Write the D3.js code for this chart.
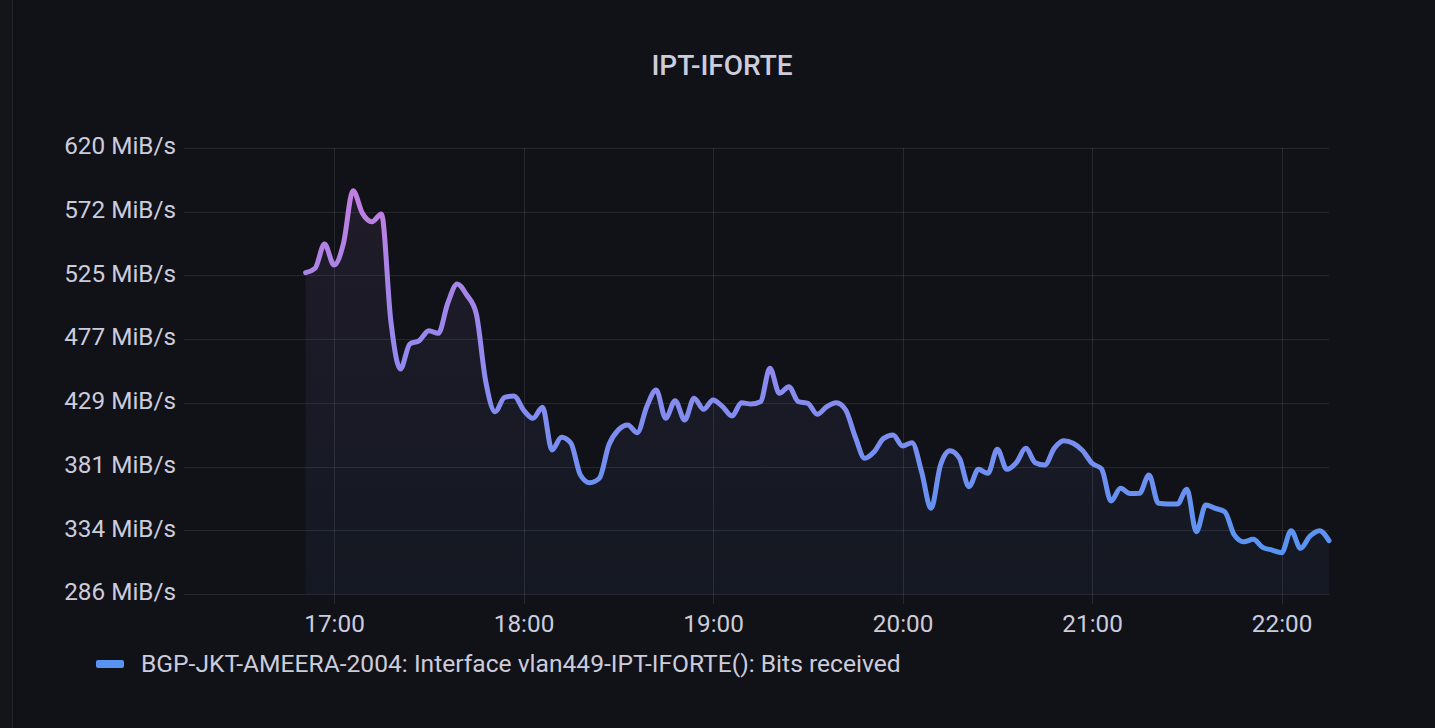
<!DOCTYPE html>
<html lang="en">
<head>
<meta charset="UTF-8">
<title>IPT-IFORTE</title>
<script src="https://cdn.jsdelivr.net/npm/d3@7"></script>
<style>
  html, body { margin: 0; padding: 0; background: #111217; }
  svg { display: block; font-family: Roboto, "Noto Sans", sans-serif; }
</style>
</head>
<body>
<svg id="chart" width="1435" height="728"></svg>
<script>
// series: one sample every 3 minutes, from 16:51 to 22:15 (MiB/s)
var seriesName = 'BGP-JKT-AMEERA-2004: Interface vlan449-IPT-IFORTE(): Bits received';
var firstSample = '16:51';
var stepMinutes = 3;
var values = [
  526.6, 529.9, 548.0, 532.3, 548.6, 587.9, 571.0, 564.7, 570.5, 490.0,
  454.5, 473.2, 475.7, 483.2, 481.2, 503.7, 518.1, 509.9, 496.2, 445.5,
  422.5, 433.3, 434.3, 423.8, 417.6, 425.8, 393.9, 403.4, 398.9, 375.2,
  369.4, 372.7, 397.6, 408.8, 412.6, 406.8, 426.3, 438.8, 417.6, 430.8,
  416.3, 432.6, 424.3, 431.3, 426.3, 419.3, 429.3, 428.3, 430.0, 455.0,
  436.3, 441.3, 430.0, 428.8, 420.6, 426.3, 429.3, 423.8, 403.8, 387.7,
  392.6, 402.6, 405.1, 396.9, 399.3, 377.8, 350.2, 382.6, 393.4, 387.7,
  366.4, 379.4, 376.4, 394.4, 379.4, 384.4, 395.1, 384.4, 382.6, 395.1,
  400.8, 398.9, 393.4, 383.9, 379.7, 355.7, 365.2, 361.3, 361.5, 375.2,
  354.0, 353.5, 353.5, 364.5, 332.7, 352.7, 350.2, 347.7, 330.3, 325.2,
  327.0, 321.0, 319.0, 317.0, 333.5, 320.3, 329.5, 333.5, 326.0
];
// y ticks are round byte rates, shown in MiB/s
var yTickBytes = [300e6, 350e6, 400e6, 450e6, 500e6, 550e6, 600e6, 650e6];
var timeRange = ['16:12:30', '22:15:00'];

var MiB = 1048576;
var parseT = d3.timeParse('%Y-%m-%d %H:%M:%S');
function at(hms) { return parseT('2023-01-01 ' + (hms.length == 5 ? hms + ':00' : hms)); }

var t0 = at(firstSample);
var data = values.map(function(v, i) {
  return { t: d3.timeMinute.offset(t0, i * stepMinutes), v: v };
});

var svg = d3.select('#chart');
var W = 1435, H = 728;
var plotL = 184, plotR = 1329, plotT = 148, plotB = 594;

// panel
svg.append('rect').attr('width', W).attr('height', H).attr('fill', '#141519');
svg.append('rect').attr('x', 13).attr('width', W - 13).attr('height', H).attr('fill', '#111217');
svg.append('line').attr('x1', 12.5).attr('x2', 12.5).attr('y1', 0).attr('y2', H)
  .attr('stroke', '#22232a').attr('stroke-width', 1);

svg.append('text')
  .attr('x', 722).attr('y', 75)
  .attr('text-anchor', 'middle')
  .attr('fill', '#ccccdc')
  .style('font-size', '28px').style('font-weight', 500)
  .text('IPT-IFORTE');

var x = d3.scaleTime().domain([at(timeRange[0]), at(timeRange[1])]).range([plotL, plotR]);
var y = d3.scaleLinear()
  .domain([yTickBytes[0] / MiB, yTickBytes[yTickBytes.length - 1] / MiB])
  .range([plotB, plotT]);

var yTicks = yTickBytes.map(function(b) { return b / MiB; });
var xTicks = x.ticks(d3.timeHour.every(1));

// grid
var grid = svg.append('g').attr('stroke', '#ccccdc').attr('stroke-opacity', 0.12).attr('stroke-width', 1);
grid.selectAll('.h').data(yTicks).enter().append('line')
  .attr('x1', plotL).attr('x2', plotR)
  .attr('y1', function(d) { return Math.round(y(d)) + 0.5; })
  .attr('y2', function(d) { return Math.round(y(d)) + 0.5; });
grid.selectAll('.v').data(xTicks).enter().append('line')
  .attr('x1', function(d) { return Math.round(x(d)) + 0.5; })
  .attr('x2', function(d) { return Math.round(x(d)) + 0.5; })
  .attr('y1', plotT).attr('y2', plotB + 10);

// y axis labels
var yAxis = svg.append('g')
  .attr('transform', 'translate(' + (plotL - 8) + ',-2)')
  .call(d3.axisLeft(y).tickValues(yTicks).tickSize(0).tickPadding(0)
    .tickFormat(function(d) { return Math.round(d) + ' MiB/s'; }));
yAxis.select('.domain').remove();
yAxis.selectAll('text').attr('fill', '#ccccdc').style('font-size', '24.3px')
  .style('font-family', 'Roboto, sans-serif');

// x axis labels
var xAxis = svg.append('g')
  .attr('transform', 'translate(0,' + (plotB + 21) + ')')
  .call(d3.axisBottom(x).tickValues(xTicks).tickSize(0).tickPadding(0)
    .tickFormat(d3.timeFormat('%H:%M')));
xAxis.select('.domain').remove();
xAxis.selectAll('text').attr('fill', '#ccccdc').style('font-size', '24.3px')
  .style('font-family', 'Roboto, sans-serif');

// colour by value, blue at the low end, purple at the high end
var vmin = d3.min(values), vmax = d3.max(values);
var defs = svg.append('defs');
var lg = defs.append('linearGradient').attr('id', 'lineGrad')
  .attr('gradientUnits', 'userSpaceOnUse')
  .attr('x1', 0).attr('x2', 0).attr('y1', y(vmin)).attr('y2', y(vmax));
lg.append('stop').attr('offset', '0%').attr('stop-color', '#5794F2');
lg.append('stop').attr('offset', '50%').attr('stop-color', '#8f8af0');
lg.append('stop').attr('offset', '100%').attr('stop-color', '#C27EE0');

var ag = defs.append('linearGradient').attr('id', 'areaGrad')
  .attr('gradientUnits', 'userSpaceOnUse')
  .attr('x1', 0).attr('x2', 0).attr('y1', y(vmax)).attr('y2', plotB);
ag.append('stop').attr('offset', '0%').attr('stop-color', '#b877d9').attr('stop-opacity', 0.09);
ag.append('stop').attr('offset', '100%').attr('stop-color', '#5794F2').attr('stop-opacity', 0.05);

var area = d3.area()
  .x(function(d) { return x(d.t); })
  .y0(plotB)
  .y1(function(d) { return y(d.v); })
  .curve(d3.curveMonotoneX);
var line = d3.line()
  .x(function(d) { return x(d.t); })
  .y(function(d) { return y(d.v); })
  .curve(d3.curveMonotoneX);

svg.append('path').datum(data).attr('d', area).attr('fill', 'url(#areaGrad)');
svg.append('path').datum(data).attr('d', line)
  .attr('fill', 'none')
  .attr('stroke', 'url(#lineGrad)')
  .attr('stroke-width', 5)
  .attr('stroke-linejoin', 'round')
  .attr('stroke-linecap', 'round');

// legend
var legend = svg.append('g').attr('transform', 'translate(96,664)');
legend.append('rect')
  .attr('x', 0).attr('y', -4).attr('width', 28).attr('height', 8).attr('rx', 2)
  .attr('fill', '#5794F2');
legend.append('text')
  .attr('x', 45).attr('y', 8)
  .attr('fill', '#ccccdc')
  .style('font-size', '24.6px')
  .text(seriesName);
</script>
</body>
</html>
